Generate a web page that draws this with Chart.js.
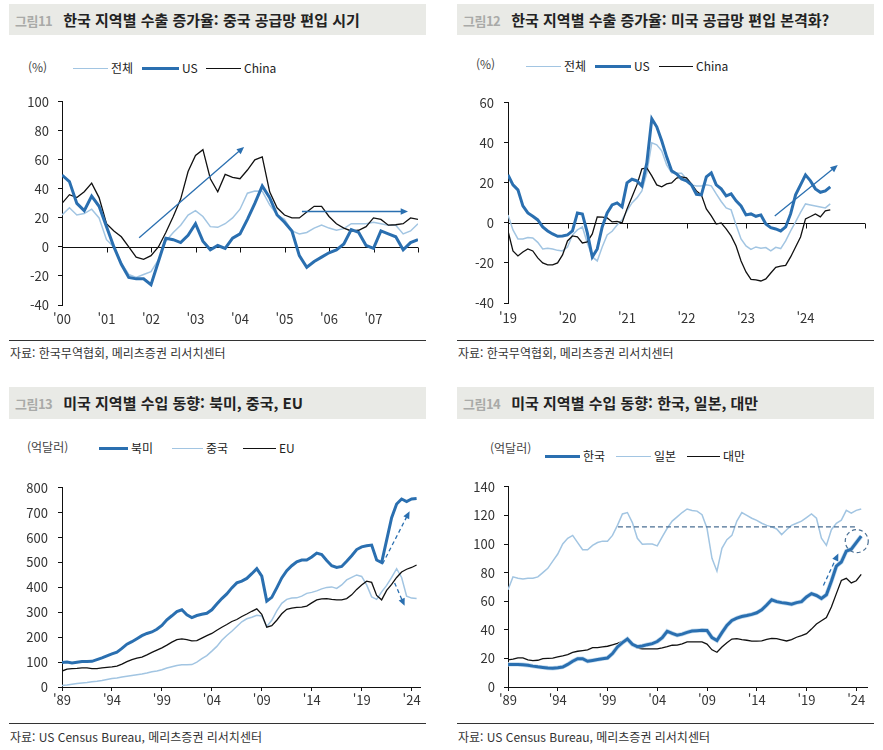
<!DOCTYPE html>
<html lang="ko">
<head>
<meta charset="utf-8">
<script src="https://cdn.jsdelivr.net/npm/chart.js@4.4.1/dist/chart.umd.min.js"></script>
<style>
body { margin:0; background:#fff; width:883px; height:750px; position:relative; overflow:hidden;
       font-family:"Noto Sans CJK KR", "Noto Sans", sans-serif; color:#222; }
.title { position:absolute; height:31px; background:#e9eae6; font-size:15px; font-weight:700; line-height:31px; white-space:nowrap; }
.title .num { color:#a9aaa8; font-size:13px; letter-spacing:-0.5px; margin-left:6px; margin-right:11px; }
.unit { position:absolute; font-size:12px; line-height:16px; color:#444; }
.lg { position:absolute; font-size:12px; line-height:16px; height:16px; display:flex; align-items:center; color:#222; white-space:nowrap; }
.lg i { display:inline-block; margin-right:3px; }
.rule { position:absolute; height:1px; background:#333; }
.src { position:absolute; font-size:12px; line-height:16px; color:#333; white-space:nowrap; }
canvas { position:absolute; }
</style>
</head>
<body>

<!-- 그림11 -->
<div class="title" style="left:9px;top:4px;width:417px"><span class="num">그림11</span>한국 지역별 수출 증가율: 중국 공급망 편입 시기</div>
<div class="unit" style="left:28px;top:59px">(%)</div>
<div class="lg" style="left:73px;top:60px"><i style="width:35px;border-top:1.5px solid #a2c5e2"></i>전체</div>
<div class="lg" style="left:142px;top:60px"><i style="width:37px;border-top:3.5px solid #2a6fb0"></i>US</div>
<div class="lg" style="left:206px;top:60px"><i style="width:35px;border-top:1.3px solid #111"></i>China</div>
<canvas id="c1" width="440" height="250" style="left:0;top:85px"></canvas>
<div class="rule" style="left:9px;top:340px;width:417px"></div>
<div class="src" style="left:10px;top:345px">자료: 한국무역협회, 메리츠증권 리서치센터</div>

<!-- 그림12 -->
<div class="title" style="left:457px;top:4px;width:417px"><span class="num">그림12</span>한국 지역별 수출 증가율: 미국 공급망 편입 본격화?</div>
<div class="unit" style="left:476px;top:56px">(%)</div>
<div class="lg" style="left:526px;top:58px"><i style="width:35px;border-top:1.5px solid #a2c5e2"></i>전체</div>
<div class="lg" style="left:595px;top:58px"><i style="width:36px;border-top:3.5px solid #2a6fb0"></i>US</div>
<div class="lg" style="left:659px;top:58px"><i style="width:34px;border-top:1.3px solid #111"></i>China</div>
<canvas id="c2" width="443" height="250" style="left:440px;top:85px"></canvas>
<div class="rule" style="left:457px;top:340px;width:417px"></div>
<div class="src" style="left:458px;top:345px">자료: 한국무역협회, 메리츠증권 리서치센터</div>

<!-- 그림13 -->
<div class="title" style="left:9px;top:387px;width:417px;height:32px;line-height:32px"><span class="num">그림13</span>미국 지역별 수입 동향: 북미, 중국, EU</div>
<div class="unit" style="left:27px;top:439px">(억달러)</div>
<div class="lg" style="left:99px;top:440px"><i style="width:29px;border-top:3.5px solid #2a6fb0"></i>북미</div>
<div class="lg" style="left:172px;top:440px"><i style="width:31px;border-top:1.5px solid #a2c5e2"></i>중국</div>
<div class="lg" style="left:243px;top:440px"><i style="width:33px;border-top:1.3px solid #111"></i>EU</div>
<canvas id="c3" width="440" height="250" style="left:0;top:470px"></canvas>
<div class="rule" style="left:9px;top:723px;width:417px"></div>
<div class="src" style="left:10px;top:729px">자료: US Census Bureau, 메리츠증권 리서치센터</div>

<!-- 그림14 -->
<div class="title" style="left:457px;top:387px;width:417px;height:32px;line-height:32px"><span class="num">그림14</span>미국 지역별 수입 동향: 한국, 일본, 대만</div>
<div class="unit" style="left:490px;top:440px">(억달러)</div>
<div class="lg" style="left:545px;top:448px"><i style="width:35px;border-top:3.5px solid #2a6fb0"></i>한국</div>
<div class="lg" style="left:616px;top:448px"><i style="width:35px;border-top:1.5px solid #a2c5e2"></i>일본</div>
<div class="lg" style="left:687px;top:448px"><i style="width:33px;border-top:1.3px solid #111"></i>대만</div>
<canvas id="c4" width="443" height="250" style="left:440px;top:470px"></canvas>
<div class="rule" style="left:457px;top:723px;width:417px"></div>
<div class="src" style="left:458px;top:729px">자료: US Census Bureau, 메리츠증권 리서치센터</div>

<script>
// 그림11: 2000.01 부터 두 달 간격 (월 인덱스)
const months1 = [0, 2, 4, 6, 8, 10, 12, 14, 16, 18, 20, 22, 24, 26, 28, 30, 32, 34, 36, 38, 40, 42, 44, 46,
                 48, 50, 52, 54, 56, 58, 60, 62, 64, 66, 68, 70, 72, 74, 76, 78, 80, 82, 84, 86, 88, 90, 92, 94, 96];
const total1 = [22, 27, 22, 23, 26, 20, 5, 0, -11, -19, -21, -19, -17, -9, 4, 10, 15, 22, 25, 21, 14, 13.5, 16, 20,
                26, 37, 38.5, 38.4, 29, 22, 19, 11, 9, 10, 13, 15, 13, 11.5, 12.6, 16, 16, 16, 17, 16, 15, 15, 9, 11, 16];
const us1 = [49.5, 45, 30, 25, 35, 28, 14, 0, -12, -21, -22, -22, -26, -10, 6, 5, 3, 8, 16, 4, -2, 1, -1, 6,
             9, 19, 30, 42, 34, 22, 17, 11, -6, -14, -10, -7, -4, -2, 2, 12, 10, 1, -1, 11, 9, 7, -2, 3, 5];
const china1 = [30, 36, 34, 38, 44, 34, 16, 11, 7, 0, -7, -8.5, -6, 0, 10, 21, 33, 52, 63, 67, 47, 38, 50, 48,
                47, 53, 60, 62, 38, 27, 22, 20, 20, 24, 28, 28, 21, 16, 13, 11, 11.5, 14, 20, 19, 15, 15.3, 16, 20, 19];

// 그림12: 2019.01 부터 월별
const months2 = [0, 1, 2, 3, 4, 5, 6, 7, 8, 9, 10, 11, 12, 13, 14, 15, 16, 17, 18, 19, 20, 21, 22, 23,
                 24, 25, 26, 27, 28, 29, 30, 31, 32, 33, 34, 35, 36, 37, 38, 39, 40, 41, 42, 43, 44, 45, 46, 47,
                 48, 49, 50, 51, 52, 53, 54, 55, 56, 57, 58, 59, 60, 61, 62, 63, 64, 65];
const total2 = [4, -3.5, -8, -8, -7.3, -7.5, -9.7, -13, -12.7, -13, -13.7, -14, -12, -6, -3.5, -2, -10, -17, -19, -12, -6, -4.2, -1, 1.5,
                6, 10, 12.5, 16, 25, 40, 39, 36, 29, 25, 24.8, 24.8, 22, 19, 18.4, 18.4, 19, 18.5, 14.5, 10.7, 7.5, 6.5, -1, -8,
                -11.5, -13.2, -12, -12.6, -12.3, -14, -12.2, -12.8, -9, -4, 0.5, 5.3, 9.5, 9, 8.5, 8, 7.5, 9.5];
const us2 = [24, 19, 16.5, 8.5, 5, 3.3, 1.5, -2, -4, -5.5, -6.7, -6.5, -6, -4, 5, 4.5, -5, -17, -13, -2, 5, 9, 10, 8,
             20, 21.8, 21, 18.5, 30, 52, 48, 41, 33, 26, 24.5, 22, 21, 19, 14.3, 14, 23, 25, 19, 17, 13.5, 14.5, 11, 8.5,
             4, 4.5, 3.3, 4, -0.5, -2.4, -3, -4, -2, 4.5, 14, 19, 24, 21, 17, 15.3, 16, 18];
const china2 = [-4, -14, -16.5, -14.5, -13, -14, -17.5, -20, -21, -21, -20, -16, -9, -6.5, -7, -10, -9.5, -5.5, 3, 2.9, 2.5, 0.5, 0.8, 0,
                7, 13, 19, 27, 27.5, 23.5, 19, 18, 19.5, 20, 22.4, 23, 22.5, 19.5, 16, 14, 7, 3.5, -0.6, 0, -3, -6.5, -11.5, -19,
                -24.5, -28.2, -28.5, -29, -28, -25, -22.2, -21.6, -21.2, -17, -12, -7, 2, 3.2, 4.5, 3, 6, 6.5];

// 그림13, 14: 반기 간격 (연도)
const halfYears = [1989, 1989.5, 1990, 1990.5, 1991, 1991.5, 1992, 1992.5, 1993, 1993.5, 1994, 1994.5,
                   1995, 1995.5, 1996, 1996.5, 1997, 1997.5, 1998, 1998.5, 1999, 1999.5, 2000, 2000.5,
                   2001, 2001.5, 2002, 2002.5, 2003, 2003.5, 2004, 2004.5, 2005, 2005.5, 2006, 2006.5,
                   2007, 2007.5, 2008, 2008.5, 2009, 2009.5, 2010, 2010.5, 2011, 2011.5, 2012, 2012.5,
                   2013, 2013.5, 2014, 2014.5, 2015, 2015.5, 2016, 2016.5, 2017, 2017.5, 2018, 2018.5,
                   2019, 2019.5, 2020, 2020.5, 2021, 2021.5, 2022, 2022.5, 2023, 2023.5, 2024, 2024.5];
const northAm3 = [98, 100, 96, 99, 102, 102, 103, 110, 117, 125, 133, 140, 155, 172, 182, 194, 206, 215, 221, 232,
                  247, 270, 286, 303, 310, 290, 279, 287, 292, 296, 310, 333, 355, 374, 398, 418, 425, 436, 455, 475,
                  445, 345, 360, 398, 438, 467, 487, 503, 510, 510, 522, 538, 532, 508, 487, 480, 484, 505, 527, 552,
                  563, 567, 570, 510, 500, 590, 680, 735, 755, 745, 755, 757];
const china3 = [6, 8, 11, 14, 16, 18, 21, 23, 26, 30, 34, 36, 40, 43, 46, 49, 52, 56, 61, 64,
                69, 76, 81, 86, 89, 89, 90, 100, 114, 126, 144, 163, 188, 207, 224, 243, 262, 274, 280, 288,
                285, 243, 268, 306, 336, 352, 357, 358, 365, 376, 380, 386, 394, 400, 402, 396, 410, 430, 440, 450,
                444, 410, 362, 352, 382, 408, 440, 475, 440, 365, 357, 355];
const eu3 = [64, 72, 74, 75, 77, 77, 74, 74, 77, 79, 81, 84, 92, 102, 110, 116, 120, 129, 139, 148,
             157, 168, 180, 190, 193, 190, 185, 186, 196, 206, 215, 228, 240, 251, 263, 271, 283, 293, 304, 314,
             292, 240, 246, 268, 294, 312, 317, 320, 321, 325, 338, 350, 354, 355, 352, 350, 350, 355, 370, 392,
             410, 425, 420, 368, 350, 388, 412, 440, 462, 473, 480, 490];
const korea4 = [15.8, 15.8, 15.8, 15.6, 15.2, 14.6, 14.1, 13.7, 13.3, 13.1, 13.5, 14, 15.8, 18, 19.8, 19.8, 18, 18.6, 19.2, 19.8,
                20.3, 23.4, 28, 31, 33.6, 29.8, 28.2, 28.7, 29.6, 30.3, 31.8, 34.5, 39, 37.5, 36.2, 37, 38.2, 39.2, 39.4, 39.6,
                39.5, 34.5, 32.5, 38, 43, 46.5, 48.2, 49.3, 50, 50.8, 51.9, 54, 57.3, 61, 59.7, 59, 58.5, 57.9, 59, 59.7,
                63, 65.3, 64, 61.9, 64.5, 74, 84.5, 87.4, 95, 96.4, 101, 105.5];
const japan4 = [68, 77, 76, 75.5, 76, 76, 77, 80, 83, 88, 93, 100, 104, 106, 101, 96, 96, 99, 101, 102,
                102, 106, 113, 121, 122, 115, 104, 99.8, 100, 100, 98.7, 105, 111, 116, 119, 122, 124.5, 123.5, 123, 120.5,
                111, 90, 81, 97, 103, 106, 116, 122, 120, 118, 116.5, 114.5, 113, 112, 110.5, 106.6, 110, 113, 114.5, 116,
                118.5, 121, 118, 104, 99, 110, 114.5, 116.7, 123.5, 121.5, 123.5, 124.5];
const taiwan4 = [19, 19.5, 20.3, 20.3, 19, 18.5, 18.7, 19.8, 20, 20.2, 21, 21.8, 22.7, 24.2, 25, 25.5, 26, 27.5, 27.5, 28,
                 28.5, 29.5, 30.5, 32, 33.2, 30.5, 27.2, 26.6, 26.6, 26.6, 26.6, 27.3, 28.2, 29.2, 29.3, 30.2, 31.5, 31.5, 31.5, 31.5,
                 30, 26, 24.3, 28, 31, 33.5, 33.8, 33.2, 32.7, 32.1, 32.1, 32.3, 33.3, 34, 33.8, 33, 32.2, 33.2, 34.8, 36,
                 37.3, 40.5, 44, 46.3, 48.6, 56, 65.3, 74.5, 76, 72.8, 74.3, 78.8];

// 축 눈금
const yearTicks1 = [0, 12, 24, 36, 48, 60, 72, 84];
const yearTicks2 = [0, 12, 24, 36, 48, 60];
const fiveYearTicks = [1989, 1994, 1999, 2004, 2009, 2014, 2019, 2024];

Chart.defaults.font.family = '"Noto Sans CJK KR", "Noto Sans", sans-serif';

const BLUE = '#2a6fb0', LIGHT = '#a2c5e2', BLACK = '#111111', DASHC = '#4a6f93';

function series(label, xs, ys, color, width) {
    return {
        label: label,
        data: xs.map((x, i) => ({ x: x, y: ys[i] })),
        borderColor: color,
        borderWidth: width,
        pointRadius: 0,
        tension: 0,
        fill: false
    };
}

// 0 기준선과 연도 눈금 (그림11, 12)
function zeroLine(ticks) {
    return {
        id: 'zeroLine',
        beforeDatasetsDraw(chart) {
            const { ctx, chartArea, scales } = chart;
            const y0 = Math.round(scales.y.getPixelForValue(0)) + 0.5;
            ctx.save();
            ctx.strokeStyle = BLACK;
            ctx.lineWidth = 1;
            ctx.beginPath();
            ctx.moveTo(chartArea.left, y0);
            ctx.lineTo(chartArea.right, y0);
            ticks.forEach(v => {
                const px = Math.round(scales.x.getPixelForValue(v)) + 0.5;
                ctx.moveTo(px, y0);
                ctx.lineTo(px, y0 + 5);
            });
            ctx.stroke();
            ctx.restore();
        }
    };
}

// 화살표, 점선, 원 표시
function marks(spec) {
    return {
        id: 'marks',
        afterDatasetsDraw(chart) {
            const { ctx, scales } = chart;
            const px = v => scales.x.getPixelForValue(v);
            const py = v => scales.y.getPixelForValue(v);
            ctx.save();
            (spec.hlines || []).forEach(h => {
                ctx.strokeStyle = DASHC;
                ctx.lineWidth = 1.2;
                ctx.setLineDash([5, 3]);
                ctx.beginPath();
                ctx.moveTo(px(h.x1), py(h.y));
                ctx.lineTo(px(h.x2), py(h.y));
                ctx.stroke();
            });
            (spec.circles || []).forEach(c => {
                ctx.strokeStyle = DASHC;
                ctx.lineWidth = 1.2;
                ctx.setLineDash([4, 3]);
                ctx.beginPath();
                ctx.arc(px(c.x), py(c.y), c.r, 0, Math.PI * 2);
                ctx.stroke();
            });
            (spec.arrows || []).forEach(a => {
                const x1 = px(a.from[0]), y1 = py(a.from[1]);
                const x2 = px(a.to[0]), y2 = py(a.to[1]);
                const ang = Math.atan2(y2 - y1, x2 - x1);
                const head = 8;
                ctx.strokeStyle = BLUE;
                ctx.fillStyle = BLUE;
                ctx.lineWidth = a.width || 1.3;
                ctx.setLineDash(a.dash ? [4, 3] : []);
                ctx.beginPath();
                ctx.moveTo(x1, y1);
                ctx.lineTo(x2 - head * 0.7 * Math.cos(ang), y2 - head * 0.7 * Math.sin(ang));
                ctx.stroke();
                ctx.setLineDash([]);
                ctx.beginPath();
                ctx.moveTo(x2, y2);
                ctx.lineTo(x2 - head * Math.cos(ang - 0.42), y2 - head * Math.sin(ang - 0.42));
                ctx.lineTo(x2 - head * Math.cos(ang + 0.42), y2 - head * Math.sin(ang + 0.42));
                ctx.closePath();
                ctx.fill();
            });
            ctx.restore();
        }
    };
}

function lineChart(id, datasets, o) {
    const bottomAxis = !o.zeroTicks;
    const plugins = [marks(o.marks || {})];
    if (o.zeroTicks) plugins.push(zeroLine(o.zeroTicks));
    return new Chart(document.getElementById(id), {
        type: 'line',
        data: { datasets: datasets },
        options: {
            responsive: false,
            animation: false,
            layout: { padding: { left: 0, right: o.padR, top: o.padT, bottom: 0 } },
            plugins: { legend: { display: false }, tooltip: { enabled: false } },
            scales: {
                x: {
                    type: 'linear',
                    min: o.xMin,
                    max: o.xMax,
                    afterBuildTicks: s => { s.ticks = o.xTicks.map(v => ({ value: v })); },
                    afterFit: s => { s.height = o.xH; },
                    ticks: { callback: o.xLabel, padding: o.xPad, maxRotation: 0, autoSkip: false,
                             font: { size: 13 }, color: '#333' },
                    grid: bottomAxis
                        ? { drawOnChartArea: false, drawTicks: true, tickLength: 4, color: BLACK }
                        : { display: false, drawTicks: false },
                    border: { display: bottomAxis, color: BLACK }
                },
                y: {
                    min: o.yMin,
                    max: o.yMax,
                    afterFit: s => { s.width = o.yW; },
                    ticks: { stepSize: o.yStep, padding: o.yPad, font: { size: 13 }, color: '#333' },
                    grid: { drawOnChartArea: false, drawTicks: true, tickLength: 4, color: BLACK },
                    border: { display: true, color: BLACK }
                }
            }
        },
        plugins: plugins
    });
}

const yy = y => "'" + String(y).slice(2);

// 그림11
lineChart('c1', [
    series('US', months1, us1, BLUE, 3),
    series('China', months1, china1, BLACK, 1.3),
    series('전체', months1, total1, LIGHT, 1.5)
], {
    xMin: 0, xMax: 96, xTicks: yearTicks1, xLabel: v => yy(2000 + v / 12), xPad: 6, xH: 30,
    yMin: -40, yMax: 100, yStep: 20, yW: 62, yPad: 9, padT: 12, padR: 22,
    zeroTicks: [12, 24, 36, 48, 60, 72, 84, 96],
    marks: {
        arrows: [
            { from: [20.8, 6.3], to: [49.1, 68.9], width: 1.3 },
            { from: [64.7, 24.4], to: [93.3, 24.4], width: 1.5 }
        ]
    }
});

// 그림12
lineChart('c2', [
    series('US', months2, us2, BLUE, 3),
    series('China', months2, china2, BLACK, 1.3),
    series('전체', months2, total2, LIGHT, 1.5)
], {
    xMin: 0, xMax: 72, xTicks: yearTicks2, xLabel: v => yy(2019 + v / 12), xPad: 7, xH: 32,
    yMin: -40, yMax: 60, yStep: 20, yW: 68, yPad: 10, padT: 10, padR: 18,
    zeroTicks: [12, 24, 36, 48, 60, 72],
    marks: {
        arrows: [{ from: [53.8, 3.4], to: [66.5, 28.9], width: 1.3 }]
    }
});

// 그림13
lineChart('c3', [
    series('북미', halfYears, northAm3, BLUE, 3),
    series('EU', halfYears, eu3, BLACK, 1.3),
    series('중국', halfYears, china3, LIGHT, 1.5)
], {
    xMin: 1989, xMax: 2024.84, xTicks: fiveYearTicks, xLabel: v => yy(v), xPad: 1, xH: 33,
    yMin: 0, yMax: 800, yStep: 100, yW: 62, yPad: 10, padT: 9, padR: 20,
    marks: {
        arrows: [
            { from: [2021.1, 495], to: [2023.8, 706], dash: true, width: 1.3 },
            { from: [2022.3, 418], to: [2023.3, 326], dash: true, width: 1.3 }
        ]
    }
});

// 그림14 (한국 선 아래 옅은 테두리)
const koreaHalo = series('한국', halfYears, korea4, '#c3dbee', 4.4);
lineChart('c4', [
    series('한국', halfYears, korea4, BLUE, 3),
    koreaHalo,
    series('대만', halfYears, taiwan4, BLACK, 1.3),
    series('일본', halfYears, japan4, LIGHT, 1.5)
], {
    xMin: 1989, xMax: 2025.08, xTicks: fiveYearTicks, xLabel: v => yy(v), xPad: 1, xH: 33,
    yMin: 0, yMax: 140, yStep: 20, yW: 68, yPad: 9, padT: 9, padR: 16,
    marks: {
        hlines: [{ y: 112, x1: 2000.05, x2: 2024.1 }],
        circles: [{ x: 2024.05, y: 102, r: 11.5 }],
        arrows: [{ from: [2020.7, 71], to: [2022.2, 93.4], dash: true, width: 1.3 }]
    }
});
</script>
</body>
</html>
